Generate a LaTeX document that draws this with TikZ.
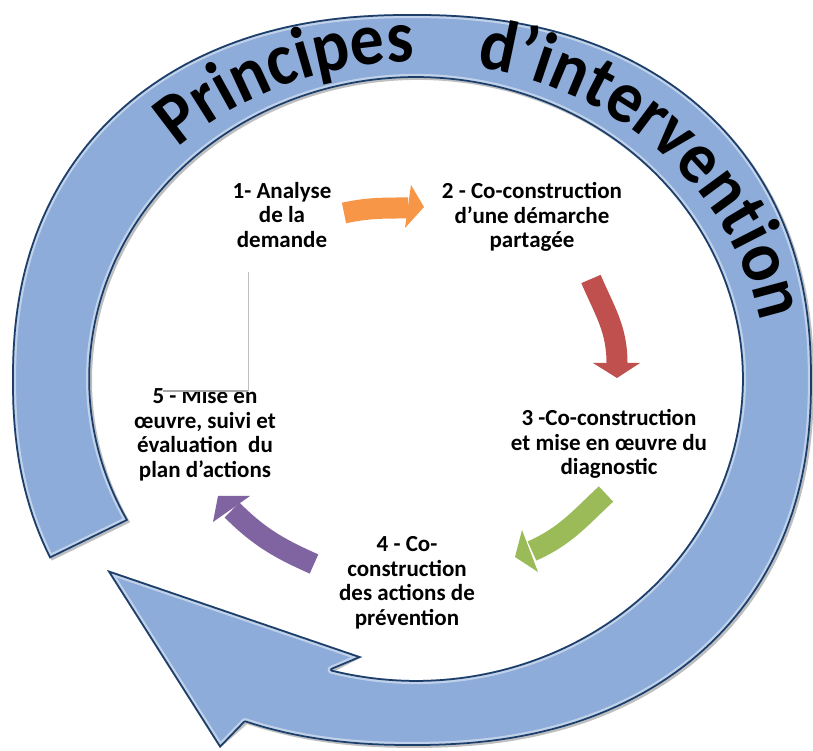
\documentclass[tikz,border=0pt]{standalone}
\usepackage{fontspec}
\setmainfont{Carlito}
\newfontfamily\ringfam{Carlito}[FakeStretch=0.92]
\usetikzlibrary{decorations.text}
\definecolor{ringfill}{RGB}{141,172,218}
\definecolor{ringedge}{RGB}{28,62,104}
\definecolor{aorange}{RGB}{247,150,70}
\definecolor{ared}{RGB}{192,80,77}
\definecolor{agreen}{RGB}{155,187,89}
\definecolor{apurple}{RGB}{128,100,162}
\newcommand{\ringfont}{\ringfam\fontsize{74}{86}\selectfont\bfseries}
\def\ringshape{plot[domain=206.5:-112, samples=216, variable=\t]
   ({412+400*cos(\t)/(abs(cos(\t))^0.111)}, {371+366*sin(\t)/(abs(sin(\t))^0.111)})
 -- (barbO) -- (tip) -- (barbI) -- ([shift={(ic)}]-105:326 and 301)
 arc[start angle=-105, end angle=208, x radius=326pt, y radius=301pt] -- cycle}
\begin{document}
\begin{tikzpicture}[x=1pt,y=1pt,
  lbl/.style={font=\fontsize{23}{24.5}\selectfont\bfseries, align=center, inner sep=0pt},
  abody/.style={line width=21pt, line cap=butt},
  ringtext/.style={decorate, decoration={text along path, text={#1}, text align=left}}
]
\useasboundingbox (0,0) rectangle (813,751);
\fill[white] (0,0) rectangle (813,751);

% ring arrow (outer edge: slightly squarish ellipse, inner edge: ellipse)
\coordinate (ic) at (416,372);
\coordinate (tc) at (416,371);
\coordinate (tip) at (107,181);
\coordinate (barbO) at (220,3);
\coordinate (barbI) at (362,94);
\fill[black, opacity=0.25, shift={(2,-2)}] \ringshape;
\fill[ringfill] \ringshape;
\begin{scope}
  \clip \ringshape;
  \draw[white, opacity=0.45, line width=8pt, line join=round] \ringshape;
  \draw[ringedge, line width=3.5pt, line join=round] \ringshape;
\end{scope}

% title along the ring
\path[ringtext={|\ringfont|Principes}]
 ([shift={(tc)}]133:350 and 318) arc[start angle=133, end angle=70, x radius=350pt, y radius=318pt];
\path[ringtext={|\ringfont|d’intervention}]
 ([shift={(tc)}]80:350 and 318) arc[start angle=80, end angle=-30, x radius=350pt, y radius=318pt];

% labels
\node[lbl] (s1) at (282,536) {1- Analyse\\de la\\demande};
\node[lbl] (s2) at (532,534) {2 - Co-construction\\d’une démarche\\partagée};
\node[lbl] (s3) at (609,307) {3 -Co-construction\\et mise en œuvre du\\diagnostic};
\node[lbl] (s4) at (407,168) {4 - Co-\\construction\\des actions de\\prévention};
\node[lbl] (s5) at (205,317) {5 - Mise en\\œuvre, suivi et\\évaluation~ du\\plan d’actions};

% stray text-box frame
\coordinate (bx1) at (163,360);
\coordinate (bx2) at (248,479);
\coordinate (bx3) at (248,360);
\fill[white] (bx1) rectangle (bx2);
\draw[black!25, line width=0.8pt] (bx2) -- (bx3);
\draw[black!35, line width=2pt] (bx1) -- (bx3);

% orange arrow 1 -> 2
\coordinate (oa1) at (344,538); \coordinate (oa2) at (408,543);
\coordinate (oat) at (424,544); \coordinate (oab1) at (411,566); \coordinate (oab2) at (405,523);
\draw[aorange, abody] (oa1) to[out=12,in=180] (oa2);
\fill[aorange] (oat) -- (oab1) -- (oab2) -- cycle;

% red arrow 2 -> 3
\coordinate (ra1) at (591,472); \coordinate (ra2) at (617,388);
\coordinate (rat) at (617,373); \coordinate (rab1) at (593,388); \coordinate (rab2) at (640,388);
\draw[ared, abody] (ra1) to[out=-67,in=90] (ra2);
\fill[ared] (rat) -- (rab1) -- (rab2) -- cycle;

% green arrow 3 -> 4
\coordinate (ga1) at (606,257); \coordinate (ga2) at (532,200);
\coordinate (gat) at (515,194); \coordinate (gab1) at (522,221); \coordinate (gab2) at (538,179);
\draw[agreen, abody] (ga1) to[out=223,in=24] (ga2);
\fill[agreen] (gat) -- (gab1) -- (gab2) -- cycle;

% purple arrow 4 -> 5
\coordinate (pa1) at (314,187); \coordinate (pa2) at (232,241);
\coordinate (pat) at (218,255); \coordinate (pab1) at (250,255); \coordinate (pab2) at (213,229);
\draw[apurple, abody] (pa1) to[out=156,in=-45] (pa2);
\fill[apurple] (pat) -- (pab1) -- (pab2) -- cycle;
\end{tikzpicture}
\end{document}
